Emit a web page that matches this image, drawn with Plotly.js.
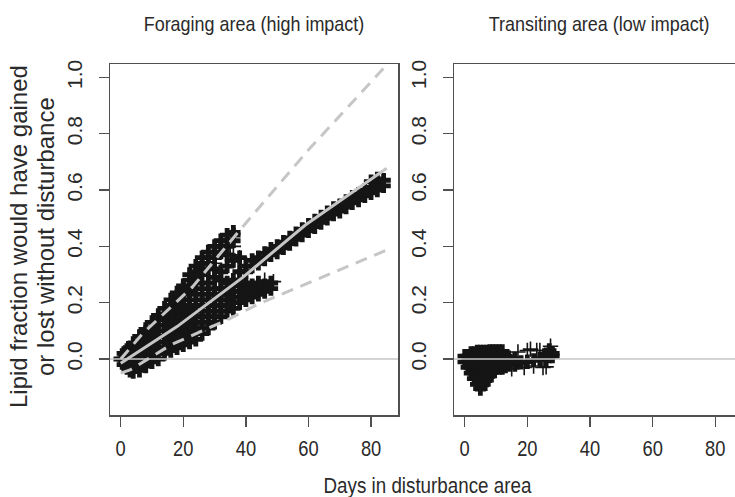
<!DOCTYPE html>
<html>
<head>
<meta charset="utf-8">
<script src="https://cdn.plot.ly/plotly-3.0.1.min.js"></script>
<style>html,body{margin:0;padding:0;background:#fff;}#chart{width:735px;height:497px;}</style>
</head>
<body>
<div id="chart"></div>
<script>
// ---- Foraging area (high impact): point cloud, grouped by day column ----
const foragingColDays = [0,1,2,3,4,6,8,10,12,14,16,18,20,22,24,26,28,30,32,34,36,38,40,42,44,46,48,50,52,54,56,58,60,62,64,66,68,70,72,74,76,78,80,82,84];
const foragingColLipid = [
  [0.0],
  [-0.02,0.0,0.02],
  [-0.03,-0.01,0.01,0.03],
  [-0.04,-0.02,0.0,0.02,0.04],
  [-0.045,-0.025,-0.005,0.015,0.035,0.055],
  [-0.04,-0.02,0.0,0.02,0.04,0.06,0.08],
  [-0.025,-0.005,0.015,0.035,0.055,0.075,0.095,0.105],
  [-0.01,0.01,0.03,0.05,0.07,0.09,0.11,0.13],
  [0.0,0.02,0.04,0.06,0.08,0.10,0.12,0.14,0.155],
  [0.02,0.04,0.06,0.08,0.10,0.12,0.14,0.16,0.18],
  [0.03,0.05,0.07,0.09,0.11,0.13,0.15,0.17,0.19,0.21],
  [0.04,0.06,0.08,0.10,0.12,0.14,0.16,0.18,0.20,0.22,0.235],
  [0.05,0.07,0.09,0.11,0.13,0.15,0.17,0.19,0.21,0.23,0.25,0.26],
  [0.06,0.08,0.10,0.12,0.14,0.16,0.18,0.21,0.24,0.26,0.28,0.30],
  [0.07,0.09,0.11,0.13,0.15,0.17,0.19,0.23,0.27,0.29,0.31,0.33],
  [0.09,0.11,0.13,0.15,0.17,0.19,0.21,0.25,0.30,0.32,0.34,0.36],
  [0.11,0.13,0.15,0.17,0.19,0.21,0.23,0.27,0.32,0.34,0.36,0.38],
  [0.13,0.15,0.17,0.19,0.21,0.23,0.25,0.29,0.32,0.36,0.38,0.40],
  [0.15,0.17,0.19,0.21,0.23,0.25,0.28,0.31,0.38,0.40,0.42],
  [0.17,0.19,0.21,0.23,0.25,0.27,0.33,0.37,0.40,0.42,0.44],
  [0.18,0.20,0.22,0.24,0.26,0.28,0.35,0.42,0.44,0.45],
  [0.20,0.22,0.24,0.26,0.28,0.31,0.36],
  [0.21,0.23,0.25,0.27,0.31,0.33],
  [0.22,0.24,0.26,0.33,0.35],
  [0.23,0.25,0.27,0.34,0.36],
  [0.24,0.26,0.355,0.375],
  [0.25,0.27,0.37,0.39],
  [0.38,0.40],
  [0.395,0.415],
  [0.41,0.43],
  [0.425,0.445],
  [0.44,0.46],
  [0.455,0.475],
  [0.47,0.49],
  [0.485,0.505],
  [0.50,0.52],
  [0.515,0.535],
  [0.525,0.545],
  [0.54,0.56],
  [0.555,0.575],
  [0.565,0.585],
  [0.58,0.60],
  [0.59,0.61,0.63],
  [0.60,0.62,0.64],
  [0.615,0.635]
];
const foragingSpikeDays  = [24, 30, 35, 36, 38, 46, 48.8];
const foragingSpikeLipid = [0.31, 0.34, 0.37, 0.40, 0.36, 0.28, 0.275];

// fitted lines (foraging)
const meanDays   = [0, 18, 39, 59, 85];
const meanLipid  = [-0.015, 0.115, 0.29, 0.476, 0.678];
const upperDays  = [0, 7, 23, 39, 60, 85];
const upperLipid = [0.0, 0.09, 0.257, 0.47, 0.743, 1.045];
const lowerDays  = [0, 3, 16, 34, 44.5, 65, 85];
const lowerLipid = [-0.05, -0.039, 0.05, 0.139, 0.198, 0.293, 0.387];

// ---- Transiting area (low impact) ----
const transitColDays = [0,1,2,3,4,5,6,7,8,9,10,11,12,13,14,16,18,20,22,24,26,27,28];
const transitColLipid = [
  [-0.01,0.01],
  [-0.03,-0.01,0.01],
  [-0.05,-0.03,-0.01,0.01,0.02],
  [-0.07,-0.05,-0.03,-0.01,0.01,0.02],
  [-0.09,-0.07,-0.05,-0.03,-0.01,0.01,0.025],
  [-0.105,-0.085,-0.065,-0.045,-0.025,-0.005,0.015,0.025],
  [-0.09,-0.07,-0.05,-0.03,-0.01,0.01,0.025],
  [-0.075,-0.055,-0.035,-0.015,0.005,0.025],
  [-0.06,-0.04,-0.02,0.0,0.02,0.027],
  [-0.045,-0.025,-0.005,0.015,0.027],
  [-0.03,-0.01,0.01,0.027],
  [-0.03,-0.01,0.01,0.027],
  [-0.03,-0.01,0.01,0.027],
  [-0.025,-0.005,0.01],
  [-0.02,0.0,0.005],
  [-0.02,0.0],
  [-0.012],
  [-0.01],
  [-0.005],
  [0.0],
  [0.0,0.015],
  [0.01,0.03],
  [0.01,0.02]
];
const transitSpikeDays  = [15, 17, 19, 20, 21, 22, 23, 24, 25, 26, 27.4];
const transitSpikeLipid = [-0.035, 0.025, -0.03, 0.03, 0.035, -0.025, 0.03, 0.03, -0.03, -0.028, 0.045];

const xTicks = [0, 20, 40, 60, 80];
const yTicks = [0, 0.2, 0.4, 0.6, 0.8, 1.0];
const yTickText = ['0.0', '0.2', '0.4', '0.6', '0.8', '1.0'];

function flatten(days, cols) {
  const xs = [], ys = [];
  cols.forEach((c, i) => c.forEach(v => { xs.push(days[i]); ys.push(v); }));
  return {xs, ys};
}
const fPts = flatten(foragingColDays, foragingColLipid);
const tPts = flatten(transitColDays, transitColLipid);

const INK = '#151515';
const GREY = '#c6c6c6';
const AX = '#505050';
const TXT = '#2a2a2a';
const FONT = 'Liberation Sans, Arial, sans-serif';

const denseMarker = {symbol: 'cross', size: 12, color: INK, line: {width: 0}};
const thinMarker = {symbol: 'cross-thin-open', size: 11, color: INK, line: {width: 1.6, color: INK}};

const traces = [
  {x: fPts.xs, y: fPts.ys, type: 'scatter', mode: 'markers', marker: denseMarker, xaxis: 'x', yaxis: 'y', hoverinfo: 'skip'},
  {x: foragingSpikeDays, y: foragingSpikeLipid, type: 'scatter', mode: 'markers', marker: thinMarker, xaxis: 'x', yaxis: 'y', hoverinfo: 'skip'},
  {x: meanDays, y: meanLipid, type: 'scatter', mode: 'lines', line: {color: GREY, width: 3}, xaxis: 'x', yaxis: 'y'},
  {x: upperDays, y: upperLipid, type: 'scatter', mode: 'lines', line: {color: GREY, width: 3, dash: '12px,8px'}, xaxis: 'x', yaxis: 'y'},
  {x: lowerDays, y: lowerLipid, type: 'scatter', mode: 'lines', line: {color: GREY, width: 3, dash: '12px,8px'}, xaxis: 'x', yaxis: 'y'},
  {x: tPts.xs, y: tPts.ys, type: 'scatter', mode: 'markers', marker: denseMarker, xaxis: 'x2', yaxis: 'y2', hoverinfo: 'skip'},
  {x: transitSpikeDays, y: transitSpikeLipid, type: 'scatter', mode: 'markers', marker: thinMarker, xaxis: 'x2', yaxis: 'y2', hoverinfo: 'skip'}
];

const xBase = {
  tickvals: xTicks, ticks: 'outside', ticklen: 10, tickwidth: 1.3, tickcolor: AX,
  showline: true, linecolor: AX, linewidth: 1.5, mirror: true,
  showgrid: false, zeroline: false, fixedrange: true,
  tickfont: {family: FONT, size: 22, color: TXT}, ticklabelstandoff: 3
};
const yBase = {
  range: [-0.199, 1.048], tickvals: yTicks, ticktext: yTickText, tickangle: -90,
  ticks: 'outside', ticklen: 10, tickwidth: 1.3, tickcolor: AX,
  showline: true, linecolor: AX, linewidth: 1.5,
  showgrid: false, zeroline: false, fixedrange: true,
  tickfont: {family: FONT, size: 21, color: TXT}, ticklabelstandoff: 8
};

const layout = {
  width: 735, height: 497,
  margin: {l: 110, r: 0, t: 64, b: 82},
  paper_bgcolor: '#ffffff', plot_bgcolor: '#ffffff',
  showlegend: false,
  xaxis: Object.assign({}, xBase, {domain: [0, 0.4608], range: [-3.42, 88.6], anchor: 'y'}),
  yaxis: Object.assign({}, yBase, {anchor: 'x', mirror: true}),
  xaxis2: Object.assign({}, xBase, {domain: [0.5504, 1], range: [-3.42, 86.3], anchor: 'y2'}),
  yaxis2: Object.assign({}, yBase, {anchor: 'x2', mirror: false}),
  shapes: [
    {type: 'line', xref: 'x domain', yref: 'y', x0: 0, x1: 1, y0: 0, y1: 0, line: {color: GREY, width: 1.5}, layer: 'above'},
    {type: 'line', xref: 'x2 domain', yref: 'y2', x0: 0, x1: 1, y0: 0, y1: 0, line: {color: GREY, width: 1.5}, layer: 'above'}
  ],
  annotations: [
    {text: 'Foraging area (high impact)', xref: 'paper', yref: 'paper', x: 0.2304, y: 1.115, xanchor: 'center', yanchor: 'middle', showarrow: false, font: {family: FONT, size: 21, color: TXT}},
    {text: 'Transiting area (low impact)', xref: 'paper', yref: 'paper', x: 0.7824, y: 1.115, xanchor: 'center', yanchor: 'middle', showarrow: false, font: {family: FONT, size: 21, color: TXT}},
    {text: 'Days in disturbance area', xref: 'paper', yref: 'paper', x: 0.5072, y: -0.2, xanchor: 'center', yanchor: 'middle', showarrow: false, font: {family: FONT, size: 22.5, color: TXT}},
    {text: 'Lipid fraction would have gained', xref: 'paper', yref: 'paper', x: -0.1472, y: 0.507, xanchor: 'center', yanchor: 'middle', textangle: -90, showarrow: false, font: {family: FONT, size: 24, color: TXT}},
    {text: 'or lost without disturbance', xref: 'paper', yref: 'paper', x: -0.104, y: 0.507, xanchor: 'center', yanchor: 'middle', textangle: -90, showarrow: false, font: {family: FONT, size: 24, color: TXT}}
  ]
};

// the reference sets its horizontal texts in a condensed face: narrow them
function condense(gd) {
  const nodes = gd.querySelectorAll('text.annotation-text, g.xtick > text, g.x2tick > text');
  nodes.forEach(function (t) {
    if (t.getAttribute('lengthAdjust')) return;
    const s = t.textContent || '';
    if (s.indexOf('Lipid') === 0 || s.indexOf('or lost') === 0) return;
    const L = t.getComputedTextLength();
    if (L > 0) {
      const f = s.indexOf('area') >= 0 && s.indexOf('Days') !== 0 ? 0.855 : 0.835;
      t.setAttribute('textLength', (L * f).toFixed(1));
      t.setAttribute('lengthAdjust', 'spacingAndGlyphs');
    }
  });
}

const gdEl = document.getElementById('chart');
Plotly.newPlot(gdEl, traces, layout, {displayModeBar: false, staticPlot: true}).then(function (gd) {
  condense(gd);
  gd.on('plotly_afterplot', function () { condense(gd); });
  requestAnimationFrame(function () { condense(gd); });
  setTimeout(function () { condense(gd); }, 30);
});
</script>
</body>
</html>
